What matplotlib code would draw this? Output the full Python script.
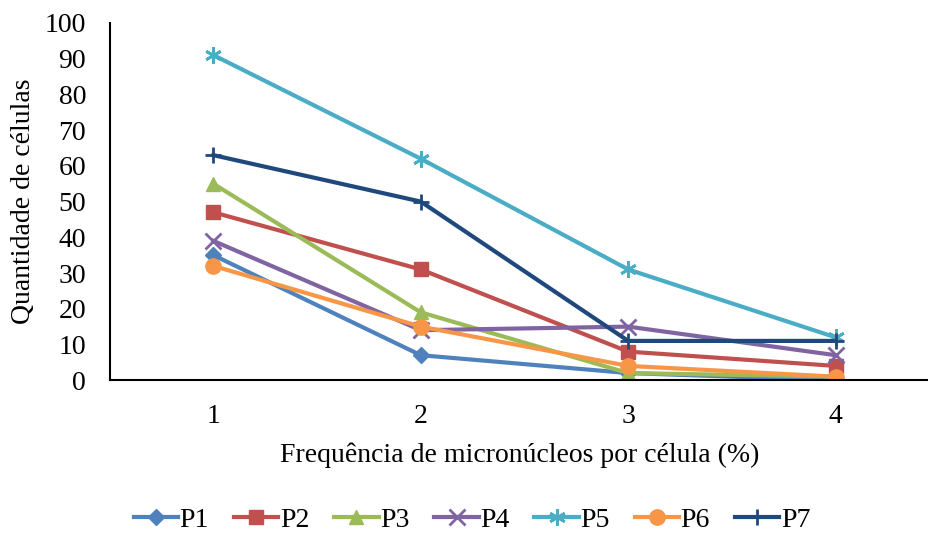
import numpy as np
import matplotlib.pyplot as plt

plt.rcParams['font.family'] = ['Liberation Serif', 'DejaVu Serif']

freq = [1, 2, 3, 4]
labels = ['P1', 'P2', 'P3', 'P4', 'P5', 'P6', 'P7']
p1 = [35, 7, 2, 0]
p2 = [47, 31, 8, 4]
p3 = [55, 19, 2, 1]
p4 = [39, 14, 15, 7]
p5 = [91, 62, 31, 12]
p6 = [32, 15, 4, 1]
p7 = [63, 50, 11, 11]
series = [p1, p2, p3, p4, p5, p6, p7]

colors = ['#4F81BD', '#C0504D', '#9BBB59', '#8064A2', '#4BACC6', '#F79646', '#1F497D']
markers = ['D', 's', '^', 'x', (6, 2, 0), 'o', '+']
sizes = [8, 10, 10, 11, 12, 11, 12]

fig = plt.figure(figsize=(9.29, 5.34), dpi=100)
ax = fig.add_axes([0.118, 0.288, 0.882, 0.669])

for lab, vals, c, m, s in zip(labels, series, colors, markers, sizes):
    ax.plot(freq, vals, color=c, marker=m, markersize=s, linewidth=3,
            markeredgewidth=2 if m in ('x', '+') or isinstance(m, tuple) else 1,
            markeredgecolor=c, label=lab)

ax.set_xlim(0.5, 4.45)
ax.set_ylim(0, 100)
ax.set_yticks(range(0, 101, 10))
ax.set_xticks(freq)
ax.tick_params(length=0, labelsize=20)
ax.tick_params(axis='y', pad=17)
ax.tick_params(axis='x', pad=17)
for side in ('top', 'right'):
    ax.spines[side].set_visible(False)
for side in ('left', 'bottom'):
    ax.spines[side].set_linewidth(1.5)

ax.set_xlabel('Frequência de micronúcleos por célula (%)', fontsize=20, labelpad=10)
ax.set_ylabel('Quantidade de células', fontsize=20, labelpad=6)

fig.legend(loc='lower center', bbox_to_anchor=(0.508, -0.045), ncol=7, frameon=False,
           fontsize=20, handlelength=1.6, handletextpad=0.05, columnspacing=0.9)

fig.savefig('out.png', dpi=100)
